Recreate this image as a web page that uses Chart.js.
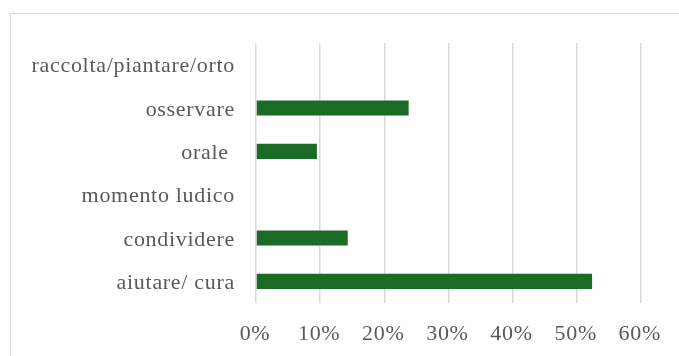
<!DOCTYPE html>
<html>
<head>
<meta charset="utf-8">
<script src="https://cdn.jsdelivr.net/npm/chart.js@4/dist/chart.umd.min.js"></script>
<style>
  html, body { margin: 0; padding: 0; background: #fff; overflow: hidden; }
  #wrap { position: relative; width: 679px; height: 356px; }
  #frame {
    position: absolute; left: 10px; top: 13px; width: 700px; height: 380px;
    border: 1.5px solid #d9d9d9; box-sizing: border-box;
  }
  #chart { position: absolute; left: 0; top: 0; }
</style>
</head>
<body>
<div id="wrap">
  <div id="frame"></div>
  <canvas id="chart" width="679" height="356"></canvas>
</div>
<script>
// Activity categories, listed top to bottom
const categories = [
  'raccolta/piantare/orto',
  'osservare',
  'orale ',
  'momento ludico',
  'condividere',
  'aiutare/ cura'
];
// Share of answers per category (%)
const shares = [0, 23.8, 9.5, 0, 14.3, 52.4];
// Horizontal axis ticks (%)
const tickValues = [0, 10, 20, 30, 40, 50, 60];

const textColor = '#595959';
const fontFamily = "'Liberation Serif', 'Times New Roman', serif";

// Slightly widened lettering for all chart text
const letterSpacingPlugin = {
  id: 'letterSpacing',
  beforeDraw(chart) { chart.ctx.letterSpacing = '0.7px'; }
};

new Chart(document.getElementById('chart'), {
  type: 'bar',
  data: {
    labels: categories,
    datasets: [{
      data: shares,
      backgroundColor: '#1b6a26',
      borderWidth: 0,
      barPercentage: 0.35,
      categoryPercentage: 1
    }]
  },
  plugins: [letterSpacingPlugin],
  options: {
    indexAxis: 'y',
    responsive: false,
    animation: false,
    devicePixelRatio: 1,
    layout: { padding: { top: 43, right: 38, left: 0, bottom: 0 } },
    plugins: { legend: { display: false }, tooltip: { enabled: false } },
    scales: {
      x: {
        min: tickValues[0],
        max: tickValues[tickValues.length - 1],
        afterBuildTicks: (axis) => { axis.ticks = tickValues.map(v => ({ value: v })); },
        afterFit: (axis) => { axis.height = 53; },
        grid: { color: '#d9d9d9', lineWidth: 1.5, drawTicks: false },
        border: { display: false },
        ticks: {
          padding: 18,
          labelOffset: -1,
          color: textColor,
          font: { family: fontFamily, size: 22 },
          callback: (v) => v + '%'
        }
      },
      y: {
        afterFit: (axis) => { axis.width = 256; },
        grid: { display: false, drawTicks: false },
        border: { display: false },
        ticks: {
          padding: 21,
          labelOffset: 2,
          color: textColor,
          font: { family: fontFamily, size: 22 }
        }
      }
    }
  }
});
</script>
</body>
</html>
